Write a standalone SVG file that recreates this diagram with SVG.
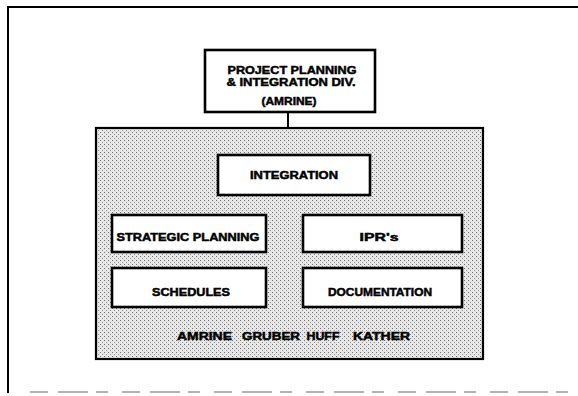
<svg xmlns="http://www.w3.org/2000/svg" width="578" height="396" viewBox="0 0 578 396">
<defs>
<pattern id="dots" width="4" height="4" patternUnits="userSpaceOnUse">
<rect width="4" height="4" fill="#e7e7e7"/>
<rect x="0" y="0" width="1" height="1" fill="#707070"/>
<rect x="2" y="2" width="1" height="1" fill="#909090"/>
</pattern>
</defs>
<style>
.box{fill:#fff;stroke:#000;stroke-width:2.6}
.t{font-family:"Liberation Sans",Arial,sans-serif;font-weight:bold;font-size:11.5px;fill:#000;stroke:#000;stroke-width:0.5;text-anchor:middle}
.frame{stroke:#000;stroke-width:2;fill:none}
.conn{stroke:#000;stroke-width:2;fill:none}
</style>
<rect width="578" height="396" fill="#fff"/>
<g id="frame">
<path class="frame" d="M578,7 L8,7 L8,393"/>
<path d="M30,392 L578,392" stroke="#999" stroke-width="1.5" stroke-dasharray="18,10,30,8,12,14"/>
</g>
<g id="connectors">
<line class="conn" x1="288" y1="112" x2="288" y2="128"/>
</g>
<g id="top">
<rect class="box" x="205" y="50" width="170" height="62"/>
<text class="t" x="292" y="74" textLength="129" lengthAdjust="spacingAndGlyphs">PROJECT PLANNING</text>
<text class="t" x="291" y="86" textLength="129" lengthAdjust="spacingAndGlyphs">&amp; INTEGRATION DIV.</text>
<text class="t" x="289" y="105" textLength="55" lengthAdjust="spacingAndGlyphs">(AMRINE)</text>
</g>
<g id="group">
<rect x="96" y="128" width="387" height="231" fill="url(#dots)" stroke="#000" stroke-width="2.2"/>
</g>
<g id="integration">
<rect class="box" x="218" y="155" width="152" height="40"/>
<text class="t" x="294" y="179" textLength="88" lengthAdjust="spacingAndGlyphs">INTEGRATION</text>
</g>
<g id="strategic">
<rect class="box" x="112" y="215" width="154" height="37"/>
<text class="t" x="188" y="241" textLength="143" lengthAdjust="spacingAndGlyphs">STRATEGIC PLANNING</text>
</g>
<g id="iprs">
<rect class="box" x="303" y="215" width="159" height="37"/>
<text class="t" x="379" y="241" textLength="39" lengthAdjust="spacingAndGlyphs">IPR's</text>
</g>
<g id="schedules">
<rect class="box" x="112" y="268" width="154" height="39"/>
<text class="t" x="191" y="296" textLength="78" lengthAdjust="spacingAndGlyphs">SCHEDULES</text>
</g>
<g id="documentation">
<rect class="box" x="303" y="268" width="159" height="39"/>
<text class="t" x="380" y="296" textLength="104" lengthAdjust="spacingAndGlyphs">DOCUMENTATION</text>
</g>
<g id="names">
<text class="t" x="204.5" y="340" textLength="55" lengthAdjust="spacingAndGlyphs">AMRINE</text>
<text class="t" x="271" y="340" textLength="58" lengthAdjust="spacingAndGlyphs">GRUBER</text>
<text class="t" x="323" y="340" textLength="33" lengthAdjust="spacingAndGlyphs">HUFF</text>
<text class="t" x="381.5" y="340" textLength="57" lengthAdjust="spacingAndGlyphs">KATHER</text>
</g>
</svg>
